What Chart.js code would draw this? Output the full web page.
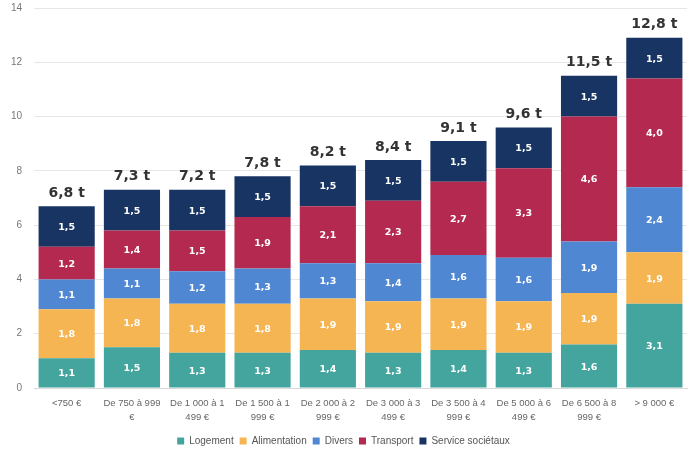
<!DOCTYPE html>
<html>
<head>
<meta charset="utf-8">
<script src="https://cdn.jsdelivr.net/npm/chart.js@4"></script>
<style>
  html, body { margin: 0; padding: 0; background: #fff; }
  #wrap { width: 692px; height: 452px; position: relative; }
</style>
</head>
<body>
<div id="wrap"><canvas id="grafica"></canvas></div>
<script>
// tranches de revenu (libellés sur deux lignes)
const tranches = [
  ["<750 €"],
  ["De 750 à 999", "€"],
  ["De 1 000 à 1", "499 €"],
  ["De 1 500 à 1", "999 €"],
  ["De 2 000 à 2", "999 €"],
  ["De 3 000 à 3", "499 €"],
  ["De 3 500 à 4", "999 €"],
  ["De 5 000 à 6", "499 €"],
  ["De 6 500 à 8", "999 €"],
  ["> 9 000 €"]
];

// tonnes de CO2 par poste
const logement     = [1.1, 1.5, 1.3, 1.3, 1.4, 1.3, 1.4, 1.3, 1.6, 3.1];
const alimentation = [1.8, 1.8, 1.8, 1.8, 1.9, 1.9, 1.9, 1.9, 1.9, 1.9];
const divers       = [1.1, 1.1, 1.2, 1.3, 1.3, 1.4, 1.6, 1.6, 1.9, 2.4];
const transport    = [1.2, 1.4, 1.5, 1.9, 2.1, 2.3, 2.7, 3.3, 4.6, 4.0];
const services     = [1.5, 1.5, 1.5, 1.5, 1.5, 1.5, 1.5, 1.5, 1.5, 1.5];
const totaux       = [6.8, 7.3, 7.2, 7.8, 8.2, 8.4, 9.1, 9.6, 11.5, 12.8];

const yTicks = [0, 2, 4, 6, 8, 10, 12, 14];

const fr = v => v.toFixed(1).replace(".", ",");

// valeurs blanches dans chaque segment + total au-dessus de la pile
const etiquettes = {
  id: "etiquettes",
  afterDatasetsDraw(chart) {
    const ctx = chart.ctx;
    ctx.save();
    ctx.textAlign = "center";
    ctx.textBaseline = "middle";
    ctx.fillStyle = "#fff";
    ctx.font = "bold 9.5px 'DejaVu Sans', sans-serif";
    chart.data.datasets.forEach((ds, d) => {
      const meta = chart.getDatasetMeta(d);
      meta.data.forEach((bar, i) => {
        const p = bar.getProps(["x", "y", "base"], true);
        ctx.fillText(fr(ds.data[i]), p.x, (p.y + p.base) / 2 + 1);
      });
    });
    const top = chart.getDatasetMeta(chart.data.datasets.length - 1);
    ctx.fillStyle = "#333";
    ctx.font = "bold 14px 'DejaVu Sans', sans-serif";
    top.data.forEach((bar, i) => {
      const p = bar.getProps(["x", "y"], true);
      ctx.fillText(fr(totaux[i]) + " t", p.x, p.y - 13);
    });
    ctx.restore();
  }
};

const couleurs = ["#43a59d", "#f5b553", "#4f87d3", "#b3294f", "#183462"];
const noms = ["Logement", "Alimentation", "Divers", "Transport", "Service sociétaux"];
const series = [logement, alimentation, divers, transport, services];

const datasets = series.map((s, k) => ({
  label: noms[k],
  data: s,
  backgroundColor: couleurs[k],
  borderWidth: 0,
  categoryPercentage: 1,
  barPercentage: 0.86
}));

new Chart(document.getElementById("grafica"), {
  type: "bar",
  data: { labels: tranches, datasets: datasets },
  plugins: [etiquettes],
  options: {
    responsive: true,
    maintainAspectRatio: false,
    animation: false,
    layout: { padding: { top: 8, right: 5, left: 0, bottom: -4 } },
    plugins: {
      legend: {
        position: "bottom",
        labels: {
          boxWidth: 7,
          boxHeight: 7,
          padding: 6,
          color: "#555",
          font: { size: 10, family: "'Liberation Sans', Arial, sans-serif" }
        }
      },
      tooltip: { enabled: false }
    },
    scales: {
      x: {
        stacked: true,
        grid: { display: false },
        border: { color: "#d9d9d9" },
        ticks: {
          color: "#666",
          maxRotation: 0,
          autoSkip: false,
          padding: 0,
          font: { size: 9.5, lineHeight: 1.5, family: "'Liberation Sans', Arial, sans-serif" }
        },
        afterFit(axis) { axis.height = 42; }
      },
      y: {
        stacked: true,
        min: 0,
        max: 14,
        afterBuildTicks(axis) { axis.ticks = yTicks.map(v => ({ value: v })); },
        grid: { color: "#e6e6e6", drawTicks: false },
        border: { display: false },
        ticks: {
          color: "#777",
          padding: 12,
          font: { size: 10, family: "'Liberation Sans', Arial, sans-serif" }
        },
        afterFit(axis) {
          axis.width = 34;
          axis.paddingTop = 0;
          axis.paddingBottom = 0;
        }
      }
    }
  }
});
</script>
</body>
</html>
